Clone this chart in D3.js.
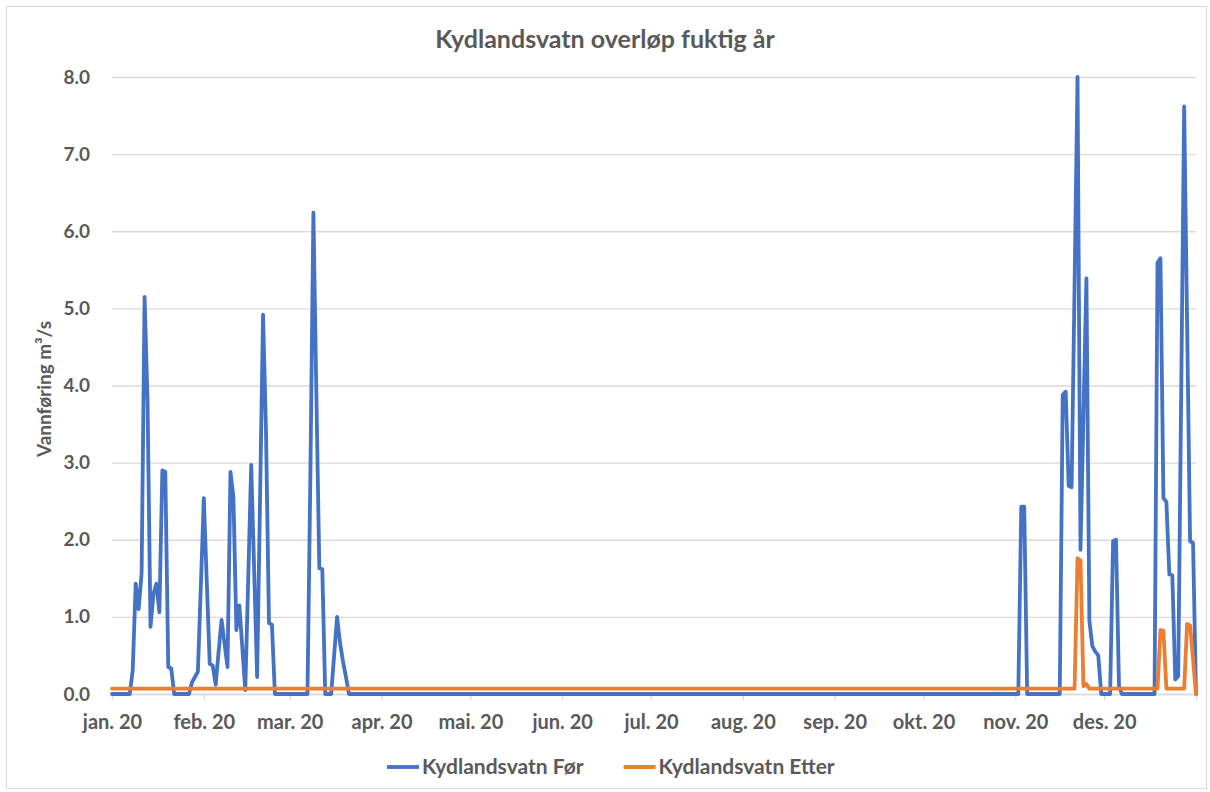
<!DOCTYPE html>
<html>
<head>
<meta charset="utf-8">
<script src="https://cdn.jsdelivr.net/npm/d3@7"></script>
<style>
  body { margin: 0; background: #fff; }
  svg { display: block; }
  text { font-family: Lato, "Noto Sans", sans-serif; font-weight: bold; fill: #595959; }
</style>
</head>
<body>
<div id="chart"></div>
<script>
// Kydlandsvatn overløp fuktig år - daglige verdier 2020 (m3/s)
var title = "Kydlandsvatn overløp fuktig år";
var yTitle = "Vannføring m³/s";
var seriesNames = ["Kydlandsvatn Før", "Kydlandsvatn Etter"];
var seriesColors = ["#4472C4", "#ED7D31"];
var monthLabels = ["jan. 20", "feb. 20", "mar. 20", "apr. 20", "mai. 20", "jun. 20",
                   "jul. 20", "aug. 20", "sep. 20", "okt. 20", "nov. 20", "des. 20"];
var yTicks = [0, 1, 2, 3, 4, 5, 6, 7, 8];

// Før
var forJan = [0,0,0,0,0,0,0,0.31,1.43,1.1,1.57,5.15,3.8,0.87,1.3,1.43,1.06,2.9,2.88,0.35,0.33,0,0,0,0,0,0,0.15,0.22,0.29,1.4];
var forFeb = [2.54,1.45,0.39,0.37,0.12,0.55,0.96,0.65,0.35,2.88,2.55,0.83,1.15,0.6,0.05,1.5,2.97,1.6,0.22,2.55,4.92,3.4,0.92,0.9,0,0,0,0,0];
var forMar = [0,0,0,0,0,0,0,2.9,6.24,3.9,1.63,1.62,0,0,0,0.5,1.0,0.66,0.42,0.22,0,0,0,0,0,0,0,0,0,0,0];
var forApr = [0,0,0,0,0,0,0,0,0,0, 0,0,0,0,0,0,0,0,0,0, 0,0,0,0,0,0,0,0,0,0];
var forMai = [0,0,0,0,0,0,0,0,0,0, 0,0,0,0,0,0,0,0,0,0, 0,0,0,0,0,0,0,0,0,0, 0];
var forJun = [0,0,0,0,0,0,0,0,0,0, 0,0,0,0,0,0,0,0,0,0, 0,0,0,0,0,0,0,0,0,0];
var forJul = [0,0,0,0,0,0,0,0,0,0, 0,0,0,0,0,0,0,0,0,0, 0,0,0,0,0,0,0,0,0,0, 0];
var forAug = [0,0,0,0,0,0,0,0,0,0, 0,0,0,0,0,0,0,0,0,0, 0,0,0,0,0,0,0,0,0,0, 0];
var forSep = [0,0,0,0,0,0,0,0,0,0, 0,0,0,0,0,0,0,0,0,0, 0,0,0,0,0,0,0,0,0,0];
var forOkt = [0,0,0,0,0,0,0,0,0,0, 0,0,0,0,0,0,0,0,0,0, 0,0,0,0,0,0,0,0,0,0, 0];
var forNov = [0,0,2.43,2.43, 0,0,0,0,0,0,0,0,0,0,0,0, 3.88,3.92,2.7,2.68,5.3,8.0,1.87,3.6,5.39,0.95,0.62,0.55,0.5,0];
var forDes = [0,0,0,1.98,2.0,0.1, 0,0,0,0,0,0,0,0,0,0,0,0, 5.59,5.65,2.54,2.49,1.55,1.54,0.19,0.23,3.9,7.62,4.8,1.98,1.96];
var forJan21 = [0];

// Etter
var etterJan = [0.07,0.07,0.07,0.07,0.07,0.07,0.07,0.07,0.07,0.07, 0.07,0.07,0.07,0.07,0.07,0.07,0.07,0.07,0.07,0.07, 0.07,0.07,0.07,0.07,0.07,0.07,0.07,0.07,0.07,0.07, 0.07];
var etterFeb = [0.07,0.07,0.07,0.07,0.07,0.07,0.07,0.07,0.07,0.07, 0.07,0.07,0.07,0.07,0.07,0.07,0.07,0.07,0.07,0.07, 0.07,0.07,0.07,0.07,0.07,0.07,0.07,0.07,0.07];
var etterMar = [0.07,0.07,0.07,0.07,0.07,0.07,0.07,0.07,0.07,0.07, 0.07,0.07,0.07,0.07,0.07,0.07,0.07,0.07,0.07,0.07, 0.07,0.07,0.07,0.07,0.07,0.07,0.07,0.07,0.07,0.07, 0.07];
var etterApr = [0.07,0.07,0.07,0.07,0.07,0.07,0.07,0.07,0.07,0.07, 0.07,0.07,0.07,0.07,0.07,0.07,0.07,0.07,0.07,0.07, 0.07,0.07,0.07,0.07,0.07,0.07,0.07,0.07,0.07,0.07];
var etterMai = [0.07,0.07,0.07,0.07,0.07,0.07,0.07,0.07,0.07,0.07, 0.07,0.07,0.07,0.07,0.07,0.07,0.07,0.07,0.07,0.07, 0.07,0.07,0.07,0.07,0.07,0.07,0.07,0.07,0.07,0.07, 0.07];
var etterJun = [0.07,0.07,0.07,0.07,0.07,0.07,0.07,0.07,0.07,0.07, 0.07,0.07,0.07,0.07,0.07,0.07,0.07,0.07,0.07,0.07, 0.07,0.07,0.07,0.07,0.07,0.07,0.07,0.07,0.07,0.07];
var etterJul = [0.07,0.07,0.07,0.07,0.07,0.07,0.07,0.07,0.07,0.07, 0.07,0.07,0.07,0.07,0.07,0.07,0.07,0.07,0.07,0.07, 0.07,0.07,0.07,0.07,0.07,0.07,0.07,0.07,0.07,0.07, 0.07];
var etterAug = [0.07,0.07,0.07,0.07,0.07,0.07,0.07,0.07,0.07,0.07, 0.07,0.07,0.07,0.07,0.07,0.07,0.07,0.07,0.07,0.07, 0.07,0.07,0.07,0.07,0.07,0.07,0.07,0.07,0.07,0.07, 0.07];
var etterSep = [0.07,0.07,0.07,0.07,0.07,0.07,0.07,0.07,0.07,0.07, 0.07,0.07,0.07,0.07,0.07,0.07,0.07,0.07,0.07,0.07, 0.07,0.07,0.07,0.07,0.07,0.07,0.07,0.07,0.07,0.07];
var etterOkt = [0.07,0.07,0.07,0.07,0.07,0.07,0.07,0.07,0.07,0.07, 0.07,0.07,0.07,0.07,0.07,0.07,0.07,0.07,0.07,0.07, 0.07,0.07,0.07,0.07,0.07,0.07,0.07,0.07,0.07,0.07, 0.07];
var etterNov = [0.07,0.07,0.07,0.07,0.07,0.07,0.07,0.07,0.07,0.07, 0.07,0.07,0.07,0.07,0.07,0.07,0.07,0.07,0.07,0.07, 0.07, 1.76,1.73,0.1,0.13, 0.07,0.07,0.07,0.07,0.07];
var etterDes = [0.07,0.07,0.07,0.07,0.07,0.07,0.07,0.07,0.07,0.07, 0.07,0.07,0.07,0.07,0.07,0.07,0.07,0.07,0.07, 0.83,0.82, 0.07,0.07,0.07,0.07,0.07,0.07,0.07, 0.91,0.89,0.45];
var etterJan21 = [0];

var forValues = [].concat(forJan, forFeb, forMar, forApr, forMai, forJun, forJul, forAug, forSep, forOkt, forNov, forDes, forJan21);
var etterValues = [].concat(etterJan, etterFeb, etterMar, etterApr, etterMai, etterJun, etterJul, etterAug, etterSep, etterOkt, etterNov, etterDes, etterJan21);

var W = 1210, H = 792;
var margin = {left: 112, right: 14, top: 77, bottom: 98};

var svg = d3.select("#chart").append("svg")
  .attr("width", W)
  .attr("height", H);

// chart border
svg.append("rect")
  .attr("x", 6.5).attr("y", 6.5)
  .attr("width", 1200).attr("height", 782)
  .style("fill", "#fff")
  .style("stroke", "#d9d9d9");

var start = new Date(Date.UTC(2020, 0, 1));
var end = new Date(Date.UTC(2021, 0, 1));

var x = d3.scaleUtc()
  .domain([start, end])
  .range([margin.left, W - margin.right]);

var y = d3.scaleLinear()
  .domain([0, 8])
  .range([H - margin.bottom, margin.top]);

function rows(vals) {
  return vals.map(function(v, i) {
    return {date: d3.utcDay.offset(start, i), v: v};
  });
}

// gridlines + y labels
var yAxis = svg.append("g")
  .attr("transform", "translate(" + margin.left + ",0)")
  .call(d3.axisLeft(y)
    .tickValues(yTicks)
    .tickFormat(d3.format(".1f"))
    .tickSize(-(W - margin.right - margin.left))
    .tickPadding(22));
yAxis.select(".domain").remove();
yAxis.selectAll(".tick line").style("stroke", "#d9d9d9").style("stroke-width", 1.3);
yAxis.selectAll(".tick text").style("font-size", "19px").style("fill", "#595959");

// x axis
var monthStarts = d3.utcMonth.range(start, end);
var xAxis = svg.append("g")
  .attr("transform", "translate(0," + y(0) + ")")
  .call(d3.axisBottom(x)
    .tickValues(monthStarts.concat([end]))
    .tickFormat(function(d, i) { return i < monthLabels.length ? monthLabels[i] : ""; })
    .tickSizeInner(6)
    .tickSizeOuter(0)
    .tickPadding(15));
xAxis.select(".domain").style("stroke", "#d9d9d9").style("stroke-width", 1.3);
xAxis.selectAll(".tick line").style("stroke", "#d9d9d9").style("stroke-width", 1.3);
xAxis.selectAll(".tick text").style("font-size", "20px").style("fill", "#595959");

// lines
var line = d3.line()
  .x(function(d) { return x(d.date); })
  .y(function(d) { return y(d.v); });

[forValues, etterValues].forEach(function(vals, k) {
  svg.append("path")
    .datum(rows(vals))
    .attr("d", line)
    .style("fill", "none")
    .style("stroke", seriesColors[k])
    .style("stroke-width", 3.8)
    .style("stroke-linejoin", "round")
    .style("stroke-linecap", "round");
});

// title
svg.append("text")
  .attr("x", 605)
  .attr("y", 48)
  .attr("text-anchor", "middle")
  .style("font-size", "25px")
  .text(title);

// y title
svg.append("text")
  .attr("transform", "translate(51,389) rotate(-90)")
  .attr("text-anchor", "middle")
  .style("font-size", "19px")
  .text(yTitle);

// legend
var legend = svg.append("g").attr("transform", "translate(0,767)");
var lx = 387;
seriesNames.forEach(function(name, k) {
  legend.append("line")
    .attr("x1", lx).attr("x2", lx + 32)
    .attr("y1", 0).attr("y2", 0)
    .style("stroke", seriesColors[k])
    .style("stroke-width", 3.8);
  var t = legend.append("text")
    .attr("x", lx + 35)
    .attr("y", 7)
    .style("font-size", "21px")
    .text(name);
  lx += 35 + t.node().getComputedTextLength() + 40;
});
</script>
</body>
</html>
